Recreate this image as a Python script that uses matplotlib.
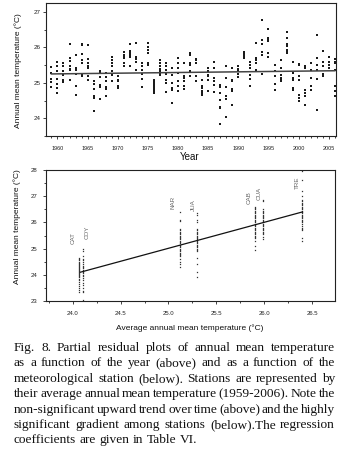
import matplotlib
matplotlib.use('Agg')
import matplotlib.pyplot as plt
from matplotlib.ticker import MultipleLocator

plt.rcParams['font.family'] = ['Liberation Sans', 'DejaVu Sans']

# top panel: partial residuals per year
years = list(range(1959, 2007))
year_temps = [
    [25.45, 25.28, 25.12, 25.02, 24.87],
    [25.6, 25.46, 25.32, 25.12, 24.96, 24.85, 24.72],
    [25.55, 25.46, 25.32, 25.22, 25.08, 25.03],
    [26.08, 25.69, 25.62, 25.48, 25.39, 25.35, 25.08],
    [25.78, 25.43, 25.36, 25.25, 24.92, 24.67],
    [26.08, 26.06, 25.81, 25.64, 25.55, 25.22, 25.18],
    [26.07, 25.66, 25.55, 25.48, 25.41, 25.18, 25.08],
    [25.04, 24.97, 24.82, 24.62, 24.57, 24.2],
    [25.32, 25.27, 25.16, 24.94, 24.88, 24.55],
    [25.27, 25.16, 25.04, 24.88, 24.82, 24.64],
    [25.74, 25.64, 25.55, 25.46, 25.32, 25.22, 25.04],
    [25.18, 25.08, 25.04, 24.9, 24.85],
    [25.88, 25.78, 25.72, 25.69, 25.55, 25.46],
    [26.09, 25.9, 25.83, 25.78, 25.74, 25.48],
    [26.11, 25.72, 25.66, 25.6, 25.35],
    [25.55, 25.46, 25.36, 25.25, 25.1, 24.88],
    [26.11, 26.02, 25.93, 25.83, 25.55, 25.5],
    [25.08, 25.03, 24.99, 24.94, 24.9, 24.85, 24.8, 24.76, 24.71],
    [25.63, 25.55, 25.46, 25.38, 25.32, 25.25, 25.22],
    [25.55, 25.46, 25.36, 25.25, 25.08, 24.99, 24.74],
    [25.41, 25.22, 24.99, 24.85, 24.8, 24.43],
    [25.71, 25.55, 25.41, 25.27, 25.04, 24.9, 24.76],
    [25.57, 25.2, 25.13, 25.04, 24.92, 24.82],
    [25.85, 25.78, 25.57, 25.5, 25.32, 25.2],
    [25.66, 25.63, 25.55, 25.2, 25.04],
    [25.08, 24.92, 24.85, 24.76, 24.71, 24.66],
    [25.41, 25.32, 25.22, 25.18, 25.08, 24.76],
    [25.6, 25.41, 25.13, 25.04, 24.94, 24.73],
    [24.94, 24.88, 24.71, 24.52, 24.32, 24.29, 23.85],
    [25.48, 25.13, 24.88, 24.62, 24.54, 24.04],
    [25.41, 25.08, 25.04, 24.82, 24.78, 24.38],
    [25.48, 25.38, 25.32, 25.25, 25.16],
    [25.88, 25.83, 25.78, 25.74, 25.69],
    [25.6, 25.5, 25.41, 25.22, 25.1, 24.92],
    [26.11, 25.69, 25.63, 25.55, 25.35],
    [26.78, 26.2, 26.09, 25.88, 25.78, 25.25],
    [26.53, 26.25, 26.22, 26.19, 25.83, 25.74],
    [25.5, 25.32, 25.18, 24.97, 24.8],
    [25.63, 25.41, 25.22, 25.13, 25.08, 25.04],
    [26.44, 26.25, 26.09, 26.04, 25.93, 25.88, 25.83],
    [25.6, 25.27, 25.13, 25.07, 24.85, 24.8],
    [25.53, 25.5, 25.18, 25.08, 24.66, 24.57, 24.48],
    [25.46, 25.41, 24.8, 24.71, 24.62, 24.36],
    [25.57, 25.36, 25.13, 24.9, 24.8],
    [26.36, 25.69, 25.5, 25.36, 25.11, 24.24],
    [25.91, 25.6, 25.46, 25.25, 25.18],
    [25.72, 25.6, 25.5, 25.41],
    [25.66, 25.6, 25.55, 25.35, 24.92, 24.78, 24.62],
]
trend_x = [1959, 2006]
trend_y = [25.25, 25.34]

# bottom panel: stations at their average temperature
stations = ['CAT', 'COY', 'NAR', 'JUA', 'CAB', 'CUA', 'TRE']
station_mean = [24.07, 24.11, 25.12, 25.30, 25.90, 25.99, 26.40]
cat_t = [24.65, 24.6, 24.55, 24.5, 24.45, 24.42, 24.38, 24.35, 24.3, 24.27, 24.22, 24.18, 24.15, 24.1,
         24.07, 24.03, 24.0, 23.95, 23.9, 23.85, 23.8, 23.72, 23.65, 23.58, 23.5, 23.42, 23.36]
coy_t = [25.0, 24.9, 24.7, 24.62, 24.55, 24.48, 24.4, 24.35, 24.3, 24.25, 24.2, 24.15, 24.1, 24.05,
         24.0, 23.95, 23.88, 23.8, 23.7, 23.6, 23.5, 23.4, 23.35, 23.03]
nar_t = [26.4, 26.1, 26.05, 25.75, 25.7, 25.65, 25.6, 25.55, 25.5, 25.45, 25.4, 25.35, 25.3, 25.25,
         25.2, 25.15, 25.1, 25.05, 25.0, 24.95, 24.9, 24.85, 24.8, 24.75, 24.7, 24.6, 24.5, 24.4, 24.3]
jua_t = [26.35, 26.3, 26.1, 26.0, 25.75, 25.7, 25.65, 25.6, 25.55, 25.5, 25.45, 25.4, 25.35, 25.3,
         25.25, 25.2, 25.15, 25.1, 25.05, 25.0, 24.95, 24.9, 24.65, 24.4, 24.1, 23.9]
cab_t = [26.6, 26.55, 26.5, 26.45, 26.4, 26.35, 26.3, 26.25, 26.2, 26.15, 26.1, 26.05, 26.0, 25.95,
         25.9, 25.85, 25.8, 25.75, 25.7, 25.65, 25.6, 25.55, 25.5, 25.45, 25.4, 25.3, 25.1, 24.95]
cua_t = [26.85, 26.8, 26.5, 26.45, 26.4, 26.35, 26.3, 26.25, 26.2, 26.15, 26.1, 26.05, 26.0, 25.95,
         25.9, 25.85, 25.8, 25.75, 25.7, 25.65, 25.6, 25.55, 25.45, 25.35]
tre_t = [27.95, 27.6, 27.2, 27.0, 26.85, 26.8, 26.75, 26.7, 26.65, 26.6, 26.55, 26.5, 26.45, 26.4,
         26.35, 26.3, 26.25, 26.2, 26.15, 26.1, 26.05, 26.0, 25.95, 25.85, 25.8, 25.75, 25.7, 25.4, 25.3]
station_temps = [cat_t, coy_t, nar_t, jua_t, cab_t, cua_t, tre_t]
label_x = [24.0, 24.15, 25.05, 25.26, 25.84, 25.95, 26.35]
label_y = [25.42, 25.63, 26.77, 26.67, 26.96, 27.11, 27.5]
fit_x = [24.08, 26.40]
fit_y = [24.10, 26.40]

caption_lines = [
    'Fig. 8. Partial residual plots of annual mean temperature',
    'as a function of the year (above) and as a function of the',
    'meteorological station (below). Stations are represented by',
    'their average annual mean temperature (1959-2006). Note the',
    'non-significant upward trend over time (above) and the highly',
    'significant gradient among stations (below).The regression',
    'coefficients are given in Table VI.',
]

W, H = 341, 451
fig = plt.figure(figsize=(W / 100, H / 100), dpi=100)
fig.patch.set_facecolor('white')

def style_axes(ax):
    for s in ax.spines.values():
        s.set_linewidth(0.8)
        s.set_color('#222222')
    ax.tick_params(which='both', direction='out', colors='#222222', width=0.6)
    ax.tick_params(which='major', length=2.5)
    ax.tick_params(which='minor', length=1.5)

# ---- top
ax1 = fig.add_axes([46 / W, 1 - 136 / H, 290 / W, 133 / H])
for yr, vals in zip(years, year_temps):
    ax1.plot([yr] * len(vals), vals, 's', color='#1a1a1a', ms=1.5, mew=0)
ax1.plot(trend_x, trend_y, color='#444444', lw=1.1)
ax1.set_xlim(1958.1, 2006.2)
ax1.set_ylim(23.5, 27.25)
ax1.xaxis.set_major_locator(MultipleLocator(5))
ax1.xaxis.set_minor_locator(MultipleLocator(1))
ax1.yaxis.set_major_locator(MultipleLocator(1))
ax1.yaxis.set_minor_locator(MultipleLocator(0.5))
style_axes(ax1)
ax1.tick_params(axis='x', labelsize=4, pad=5)
ax1.tick_params(axis='y', labelsize=4.5, pad=1.5)
ax1.set_xlabel('Year', fontsize=7, color='#111111')
ax1.xaxis.set_label_coords(0.497, -0.158)
ax1.set_ylabel('Annual mean temperature (°C)', fontsize=6, color='#111111')
ax1.yaxis.set_label_coords(-0.097, 0.49)
ax1.xaxis.label.set_va('center')
ax1.yaxis.label.set_va('center')

# ---- bottom
ax2 = fig.add_axes([46 / W, 1 - 301 / H, 289 / W, 131 / H])
for xm, vals in zip(station_mean, station_temps):
    ax2.plot([xm] * len(vals), vals, 's', color='#333333', ms=0.9, mew=0)
ax2.plot(fit_x, fit_y, color='#111111', lw=0.9)
for name, lx, ly in zip(stations, label_x, label_y):
    ax2.text(lx, ly, name, rotation=90, fontsize=4.5, color='#666666', ha='center', va='center')
ax2.set_xlim(23.72, 26.74)
ax2.set_ylim(23, 28)
ax2.xaxis.set_major_locator(MultipleLocator(0.5))
ax2.xaxis.set_minor_locator(MultipleLocator(0.25))
ax2.yaxis.set_major_locator(MultipleLocator(1))
ax2.yaxis.set_minor_locator(MultipleLocator(0.5))
ax2.xaxis.set_major_formatter(plt.FormatStrFormatter('%.1f'))
style_axes(ax2)
ax2.tick_params(axis='x', labelsize=4.3, pad=5)
ax2.tick_params(axis='y', labelsize=4.3, pad=4)
ax2.set_xlabel('Average annual mean temperature (°C)', fontsize=6, color='#111111')
ax2.xaxis.set_label_coords(0.498, -0.206)
ax2.set_ylabel('Annual mean temperature (°C)', fontsize=6, color='#111111')
ax2.yaxis.set_label_coords(-0.101, 0.567)
ax2.xaxis.label.set_va('center')
ax2.yaxis.label.set_va('center')

# ---- caption, justified
renderer = fig.canvas.get_renderer()
left, right = 14, 335
min_gap = 1.8  # px, tightest word spacing allowed

# font size so that the tightest line still fits with the minimum gap
probe = fig.text(0, 0, '', fontsize=9, family='Liberation Serif')
scale = 10.0
for line in caption_lines[:-1]:
    words = line.split()
    total = 0
    for w in words:
        probe.set_text(w)
        total += probe.get_window_extent(renderer).width
    avail = right - left - min_gap * (len(words) - 1)
    scale = min(scale, avail / total)
probe.remove()
cap_fs = 9 * scale

base0, step = 351, 15.4
for i, line in enumerate(caption_lines):
    words = line.split()
    y = 1 - (base0 + i * step) / H
    texts = [fig.text(0, y, w, fontsize=cap_fs, family='Liberation Serif', color='#111111',
                      va='baseline', ha='left') for w in words]
    widths = [t.get_window_extent(renderer).width for t in texts]
    if i == len(caption_lines) - 1:
        gap = cap_fs * 0.25 * 100 / 72
    else:
        gap = (right - left - sum(widths)) / (len(words) - 1)
    x = left
    for t, w in zip(texts, widths):
        t.set_x(x / W)
        x += w + gap

fig.savefig('out.png', dpi=100)
